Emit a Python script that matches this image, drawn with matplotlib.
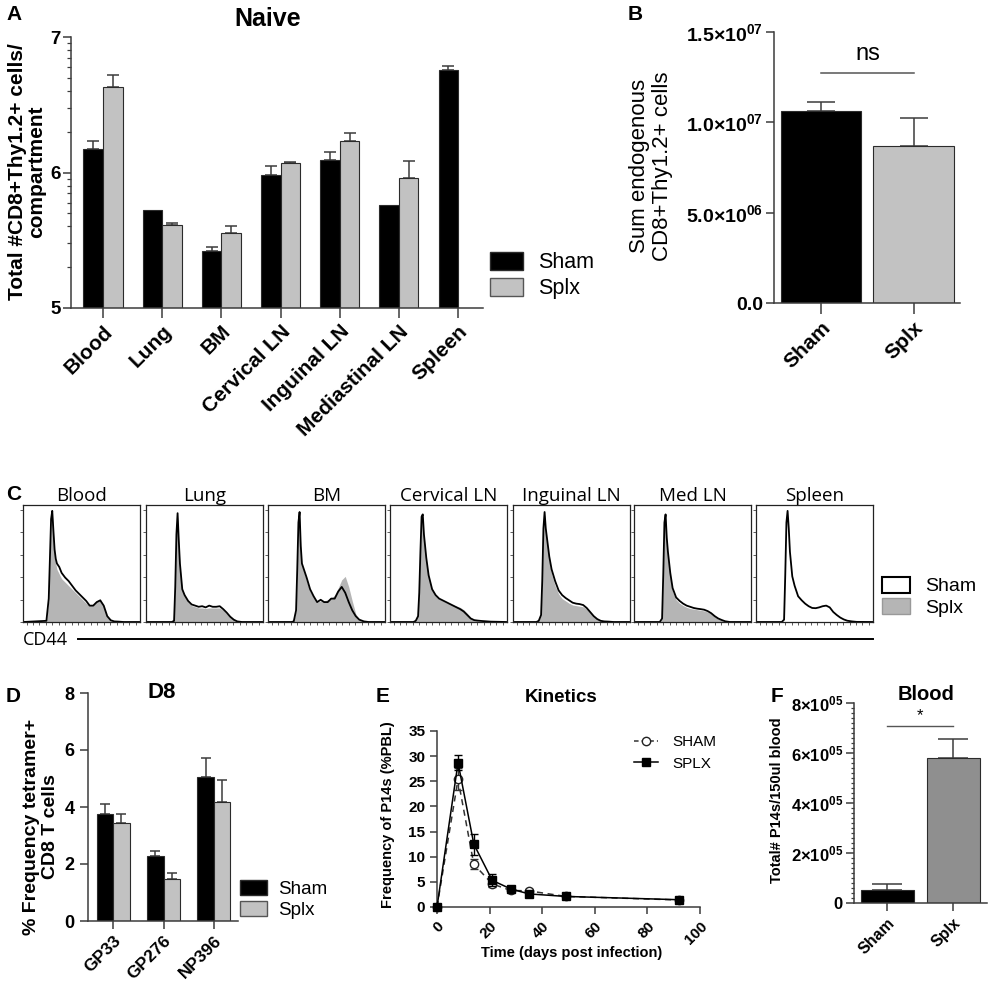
import numpy as np
import matplotlib
matplotlib.use('Agg')
import matplotlib.pyplot as plt
from matplotlib.patches import Patch
from matplotlib.lines import Line2D
from matplotlib.ticker import FixedLocator, MultipleLocator

# ---------------- data ----------------
A_categories = ['Blood', 'Lung', 'BM', 'Cervical LN', 'Inguinal LN', 'Mediastinal LN', 'Spleen']
A_sham = [6.17, 5.72, 5.42, 5.98, 6.09, 5.76, 6.76]
A_sham_err = [0.06, 0.0, 0.03, 0.07, 0.06, 0.0, 0.025]
A_splx = [6.63, 5.61, 5.55, 6.07, 6.23, 5.96, np.nan]
A_splx_err = [0.09, 0.015, 0.055, 0.01, 0.06, 0.125, np.nan]
A_yticks = [5, 6, 7]

B_groups = ['Sham', 'Splx']
B_values = [1.061e7, 0.867e7]
B_err = [0.05e7, 0.157e7]
B_yticks = [0, 5e6, 1e7, 1.5e7]
B_ytick_labels = ['0.0', r'$\mathbf{5.0{\times}10^{06}}$',
                  r'$\mathbf{1.0{\times}10^{07}}$', r'$\mathbf{1.5{\times}10^{07}}$']
B_sig_y = 1.273e7

C_panels = ['Blood', 'Lung', 'BM', 'Cervical LN', 'Inguinal LN', 'Med LN', 'Spleen']
C_x = [0, 20, 22, 24, 25, 26, 27, 28, 29, 31, 33, 36, 39, 42, 45, 48, 51, 54, 57,
       60, 63, 66, 69, 72, 75, 78, 82, 86, 100]
C_sham = {
    'Blood':       [0, 1, 20, 88, 95, 78, 62, 54, 50, 47, 42, 38, 35, 31, 27, 24, 21, 18, 14, 14, 17, 18.5, 14, 5, 1.5, 0.5, 0.3, 0, 0],
    'Lung':        [0, 0, 0, 1, 30, 75, 93, 70, 50, 28, 23, 18, 15, 14, 13, 13.5, 12.5, 14, 13, 13, 13.5, 11, 8, 4.5, 2, 0.5, 0, 0, 0],
    'BM':          [0, 0, 0.5, 10, 45, 85, 94, 65, 50, 44, 38, 28, 22, 17, 19, 17, 17, 20, 20, 26, 30, 25, 17, 10, 5, 2, 0.5, 0, 0],
    'Cervical LN': [0, 0, 1, 5, 25, 60, 90, 92, 75, 55, 40, 28, 23, 20, 18.5, 17, 15.5, 14, 12.5, 11, 9, 6, 3, 1.6, 1.2, 0.9, 0.6, 0.3, 0],
    'Inguinal LN': [0, 0, 1, 6, 35, 80, 94, 80, 72, 56, 45, 35, 27, 23, 20.5, 18.5, 16.5, 15.7, 15.3, 14.5, 12, 8.5, 5, 2.5, 1, 0.5, 0.3, 0, 0],
    'Med LN':      [0, 0, 0, 3, 40, 85, 92, 72, 60, 42, 29, 21, 18, 15.7, 14, 13, 12, 11.4, 11, 10.5, 9.3, 7.5, 5, 3, 1.7, 0.6, 0, 0, 0],
    'Spleen':      [0, 0, 0, 2, 40, 85, 95, 80, 60, 39, 31, 22, 18.6, 15.7, 13.5, 12, 11.8, 12.5, 13.5, 14, 12.5, 8.6, 6, 3.8, 2.2, 1.1, 0.5, 0.1, 0],
}
C_splx = {
    'Blood':       [0, 1, 18, 86, 93, 75, 58, 50, 45, 41, 37, 34, 31, 28, 25, 22, 19, 16, 14, 15, 18, 20, 13, 5, 1.5, 0.5, 0.3, 0, 0],
    'Lung':        [0, 0, 0.5, 3, 35, 78, 90, 68, 48, 27, 22, 17, 14, 13, 12, 12, 11.5, 12, 12, 12, 12, 10, 7, 4, 2, 0.5, 0, 0, 0],
    'BM':          [0, 0, 0.5, 10, 45, 85, 92, 63, 48, 42, 35, 26, 21, 17, 18, 18, 19, 20, 23, 29, 36, 39, 30, 18, 7, 2, 0.5, 0, 0],
    'Cervical LN': [0, 0, 1, 6, 28, 62, 88, 90, 72, 53, 39, 28, 23, 19.5, 18, 16.5, 15.5, 14.5, 13.5, 12.5, 10.5, 7.5, 4, 2, 1, 0.5, 0.3, 0, 0],
    'Inguinal LN': [0, 0, 1, 6, 35, 80, 92, 78, 69, 52, 41, 31, 24, 20, 18, 16, 14.5, 14, 13.5, 13, 11, 8, 5, 2.5, 1, 0.5, 0.3, 0, 0],
    'Med LN':      [0, 0, 0, 3, 40, 85, 90, 70, 56, 38, 26, 19, 16, 14, 12.5, 11.5, 11, 10.5, 10, 9.5, 8.5, 7, 4.5, 2.5, 1.5, 0.5, 0, 0, 0],
}

D_epitopes = ['GP33', 'GP276', 'NP396']
D_sham = [3.76, 2.27, 5.06]
D_sham_err = [0.35, 0.17, 0.65]
D_splx = [3.45, 1.49, 4.17]
D_splx_err = [0.31, 0.20, 0.78]
D_yticks = [0, 2, 4, 6, 8]

E_days = [0, 8, 14, 21, 28, 35, 49, 92]
E_sham = [0, 25.4, 8.5, 4.6, 3.3, 3.2, 2.1, 1.4]
E_sham_err = [0, 2.2, 1.0, 0.7, 0.4, 0.3, 0.3, 0.2]
E_splx = [0, 28.7, 12.5, 5.3, 3.6, 2.6, 2.1, 1.45]
E_splx_err = [0, 1.5, 2.1, 1.2, 0.5, 0.3, 0.3, 0.2]
E_xticks = [0, 20, 40, 60, 80, 100]
E_yticks = [0, 5, 10, 15, 20, 25, 30, 35]

F_groups = ['Sham', 'Splx']
F_values = [0.51e5, 5.79e5]
F_err = [0.27e5, 0.77e5]
F_yticks = [0, 2e5, 4e5, 6e5, 8e5]
F_ytick_labels = ['0', r'$\mathbf{2{\times}10^{05}}$', r'$\mathbf{4{\times}10^{05}}$',
                  r'$\mathbf{6{\times}10^{05}}$', r'$\mathbf{8{\times}10^{05}}$']
F_sig_y = 7.09e5

# ---------------- style ----------------
plt.rcParams['font.family'] = ['Liberation Sans', 'DejaVu Sans']
plt.rcParams['mathtext.fontset'] = 'custom'
plt.rcParams['mathtext.rm'] = 'Liberation Sans'
plt.rcParams['mathtext.bf'] = 'Liberation Sans:bold'
plt.rcParams['mathtext.it'] = 'Liberation Sans:italic'

W, H = 992, 982
fig = plt.figure(figsize=(W / 100, H / 100), dpi=100)
AXC = '#3c3c3c'
GRAY = '#c2c2c2'
EDGE = '#2b2b2b'
FLOW = ['Open Sans', 'DejaVu Sans']


def fx(px):
    return px / W


def fy(py):
    return 1 - py / H


def ax_px(l, t, r, b):
    return fig.add_axes([l / W, 1 - b / H, (r - l) / W, (b - t) / H])


def style(ax, lw=1.1):
    for s in ['top', 'right']:
        ax.spines[s].set_visible(False)
    for s in ['left', 'bottom']:
        ax.spines[s].set_color(AXC)
        ax.spines[s].set_linewidth(lw)
    ax.tick_params(axis='both', which='major', color=AXC, labelcolor='black', width=lw, length=6)
    ax.tick_params(axis='both', which='minor', color=AXC, width=lw * 0.8, length=3)


def ftext(px, py, s, **kw):
    fig.text(fx(px), fy(py), s, **kw)


def up_err(ax, x, y, err, capsize):
    x = np.asarray(x, float)
    y = np.asarray(y, float)
    err = np.asarray(err, float)
    k = np.nan_to_num(err) > 0
    ax.errorbar(x[k], y[k], yerr=[np.zeros(k.sum()), err[k]], fmt='none', ecolor=AXC,
                elinewidth=1.1, capsize=capsize, capthick=1.1, zorder=1)


# panel letters
for letter, px, py in [('A', 6, 20), ('B', 628, 20), ('C', 6, 500), ('D', 6, 702), ('E', 376, 702), ('F', 771, 702)]:
    ftext(px, py, letter, fontsize=15, fontweight='bold', va='baseline', ha='left')

# ---------------- Panel A ----------------
axA = ax_px(71, 37, 483, 308)
style(axA)
xa = np.arange(len(A_categories))
bw = 0.33
sham = np.array(A_sham)
splx = np.array(A_splx)
axA.bar(xa - bw / 2, sham - 5, bw, bottom=5, color='black', edgecolor=EDGE, linewidth=0.8, zorder=2)
m = ~np.isnan(splx)
axA.bar(xa[m] + bw / 2, splx[m] - 5, bw, bottom=5, color=GRAY, edgecolor=EDGE, linewidth=0.8, zorder=2)
up_err(axA, xa - bw / 2, sham, A_sham_err, 4)
up_err(axA, xa + bw / 2, splx, A_splx_err, 4)
axA.set_xlim(-0.54, 6.42)
axA.set_ylim(5, 7)
axA.set_yticks(A_yticks)
axA.set_yticklabels([str(v) for v in A_yticks], fontsize=13.5, fontweight='bold')
axA.yaxis.set_minor_locator(FixedLocator([d + np.log10(k) for d in (5, 6) for k in range(2, 10)]))
axA.tick_params(axis='y', pad=1.5)
axA.set_xticks(xa)
axA.set_xticklabels(A_categories, rotation=45, ha='right', rotation_mode='anchor',
                    fontsize=15, fontweight='bold')
axA.tick_params(axis='x', length=7, pad=3)
ftext(268, 19, 'Naive', fontsize=18, fontweight='bold', ha='center', va='center')
ftext(27, 172, 'Total #CD8+Thy1.2+ cells/\ncompartment', fontsize=15, fontweight='bold',
      rotation=90, ha='center', va='center', linespacing=1.0)
fig.legend([Patch(facecolor='black', edgecolor=EDGE), Patch(facecolor=GRAY, edgecolor='#555555')],
           ['Sham', 'Splx'], loc='upper left', bbox_to_anchor=(fx(490), fy(252)),
           frameon=False, borderpad=0, borderaxespad=0, fontsize=15.5,
           handlelength=1.55, handleheight=0.9, handletextpad=0.7, labelspacing=0.22)

# ---------------- Panel B ----------------
axB = ax_px(774, 32, 960, 303)
style(axB)
xb = np.arange(len(B_groups))
axB.bar(xb, B_values, 0.87, color=['black', GRAY], edgecolor=EDGE, linewidth=0.8, zorder=2)
up_err(axB, xb, B_values, B_err, 10)
axB.set_xlim(-0.51, 1.5)
axB.set_ylim(0, 1.5e7)
axB.set_yticks(B_yticks)
axB.set_yticklabels(B_ytick_labels, fontsize=14, fontweight='bold')
axB.tick_params(axis='y', pad=2)
axB.set_xticks(xb)
axB.set_xticklabels(B_groups, rotation=45, ha='right', rotation_mode='anchor', fontsize=15, fontweight='bold')
axB.tick_params(axis='x', length=8, pad=3)
axB.plot([0, 1], [B_sig_y, B_sig_y], color='#555555', lw=1.1)
axB.text(0.5, 1.345e7, 'ns', ha='center', va='baseline', fontsize=17)
ftext(651, 166, 'Sum endogenous\nCD8+Thy1.2+ cells', fontsize=16, rotation=90,
      ha='center', va='center', linespacing=1.1)

# ---------------- Panel C ----------------
C_left = [23, 146, 268, 390, 513, 634, 756]
for name, l in zip(C_panels, C_left):
    ax = ax_px(l, 505, l + 117, 622)
    if name in C_splx:
        ax.fill_between(C_x, C_splx[name], 0, color='#b5b5b5', lw=0)
    ax.plot(C_x, C_sham[name], color='black', lw=1.3)
    ax.set_xlim(0, 100)
    ax.set_ylim(0, 100)
    for s in ax.spines.values():
        s.set_linewidth(0.9)
        s.set_color('#222222')
    ax.set_xticks(np.arange(3, 100, 5.5))
    ax.set_yticks([0, 19.2, 38.4, 57.6, 76.8, 96])
    ax.tick_params(length=2.2, width=0.6, color='#444444', labelbottom=False, labelleft=False)
    ax.set_title(name, fontsize=13.5, family=FLOW, pad=3)
ftext(23, 640, 'CD44', fontsize=13, family=FLOW, ha='left', va='center')
fig.add_artist(Line2D([fx(78), fx(873)], [fy(639), fy(639)], color='black', lw=1.4))
fig.legend([Patch(facecolor='white', edgecolor='black', linewidth=1.5),
            Patch(facecolor='#b5b5b5', edgecolor='#999999')],
           ['Sham', 'Splx'], loc='upper left', bbox_to_anchor=(fx(882), fy(577)),
           frameon=False, borderpad=0, borderaxespad=0, fontsize=14,
           handlelength=1.45, handleheight=0.85, handletextpad=0.75, labelspacing=0.15)

# ---------------- Panel D ----------------
axD = ax_px(88, 693, 238, 921)
style(axD)
xd = np.arange(len(D_epitopes))
axD.bar(xd - bw / 2, D_sham, bw, color='black', edgecolor=EDGE, linewidth=0.8, zorder=2)
axD.bar(xd + bw / 2, D_splx, bw, color=GRAY, edgecolor=EDGE, linewidth=0.8, zorder=2)
up_err(axD, xd - bw / 2, D_sham, D_sham_err, 3.5)
up_err(axD, xd + bw / 2, D_splx, D_splx_err, 3.5)
axD.set_xlim(-0.5, 2.48)
axD.set_ylim(0, 8)
axD.set_yticks(D_yticks)
axD.set_yticklabels([str(v) for v in D_yticks], fontsize=13, fontweight='bold')
axD.set_xticks(xd)
axD.set_xticklabels(D_epitopes, rotation=45, ha='right', rotation_mode='anchor', fontsize=12.5, fontweight='bold')
axD.tick_params(axis='x', length=6, pad=3)
ftext(162, 692, 'D8', fontsize=16, fontweight='bold', ha='center', va='center')
ftext(41, 827, '% Frequency tetramer+\nCD8 T cells', fontsize=14, fontweight='bold',
      rotation=90, ha='center', va='center', linespacing=1.1)
fig.legend([Patch(facecolor='black', edgecolor=EDGE), Patch(facecolor=GRAY, edgecolor='#555555')],
           ['Sham', 'Splx'], loc='upper left', bbox_to_anchor=(fx(240), fy(880)),
           frameon=False, borderpad=0, borderaxespad=0, fontsize=13.5,
           handlelength=1.45, handleheight=0.85, handletextpad=0.6, labelspacing=0.15)

# ---------------- Panel E ----------------
axE = ax_px(437, 731, 700, 907)
style(axE)
axE.errorbar(E_days, E_sham, yerr=E_sham_err, fmt='o', ls=(0, (4, 3)), color='#333333',
             mfc='white', mec='#222222', ms=6, lw=1.1, capsize=3, elinewidth=1, clip_on=False, zorder=3)
axE.errorbar(E_days, E_splx, yerr=E_splx_err, fmt='s', ls='-', color='black',
             ms=6, lw=1.1, capsize=3, elinewidth=1, clip_on=False, zorder=4)
axE.set_xlim(0, 100)
axE.set_ylim(0, 35)
axE.set_xticks(E_xticks)
axE.set_xticklabels([str(v) for v in E_xticks], rotation=45, ha='right', rotation_mode='anchor',
                    fontsize=11, fontweight='bold')
axE.set_yticks(E_yticks)
axE.set_yticklabels([str(v) for v in E_yticks], fontsize=11, fontweight='bold')
axE.tick_params(length=5)
ftext(561, 697, 'Kinetics', fontsize=13.5, fontweight='bold', ha='center', va='center')
ftext(388, 815, 'Frequency of P14s (%PBL)', fontsize=10.5, fontweight='bold', rotation=90,
      ha='center', va='center')
ftext(572, 953, 'Time (days post infection)', fontsize=10.5, fontweight='bold', ha='center', va='center')
fig.legend([Line2D([], [], ls=(0, (3, 2)), marker='o', color='#333333', mfc='white', mec='#222222', ms=6, lw=1.1),
            Line2D([], [], ls='-', marker='s', color='black', ms=6, lw=1.1)],
           ['SHAM', 'SPLX'], loc='upper left', bbox_to_anchor=(fx(634), fy(735)),
           frameon=False, borderpad=0, borderaxespad=0, fontsize=11,
           handlelength=1.6, handletextpad=0.9, labelspacing=0.5)

# ---------------- Panel F ----------------
axF = ax_px(854, 703, 987, 903)
style(axF)
xf = np.arange(len(F_groups))
axF.bar(xf, F_values, 0.8, color=['black', '#8f8f8f'], edgecolor=EDGE, linewidth=0.8, zorder=2)
up_err(axF, xf, F_values, F_err, 11)
axF.set_xlim(-0.5, 1.51)
axF.set_ylim(0, 8e5)
axF.set_yticks(F_yticks)
axF.set_yticklabels(F_ytick_labels, fontsize=12, fontweight='bold')
axF.tick_params(axis='y', pad=2)
axF.yaxis.set_minor_locator(MultipleLocator(2e4))
axF.set_xticks(xf)
axF.set_xticklabels(F_groups, rotation=45, ha='right', rotation_mode='anchor', fontsize=11.5, fontweight='bold')
axF.tick_params(axis='x', length=6, pad=3)
axF.tick_params(axis='y', which='minor', length=2.5)
axF.plot([0, 1], [F_sig_y, F_sig_y], color='#555555', lw=1.0)
axF.text(0.5, F_sig_y + 0.1e5, '*', ha='center', va='bottom', fontsize=12)
ftext(926, 695, 'Blood', fontsize=14.5, fontweight='bold', ha='center', va='center')
ftext(777, 800, 'Total# P14s/150ul blood', fontsize=10.5, fontweight='bold', rotation=90,
      ha='center', va='center')

fig.savefig('out.png', dpi=100)
